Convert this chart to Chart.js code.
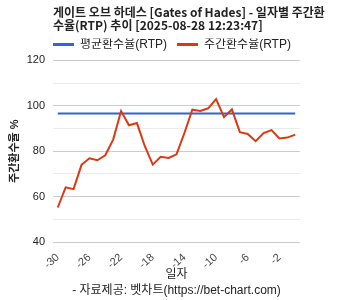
<!DOCTYPE html>
<html><head><meta charset="utf-8">
<script src="https://cdn.jsdelivr.net/npm/chart.js@4/dist/chart.umd.min.js"></script>
<style>html,body{margin:0;padding:0;background:#fff;overflow:hidden}</style>
</head><body>
<canvas id="c" width="353" height="300"></canvas>
<script>
const titleLines = ['게이트 오브 하데스 [Gates of Hades] - 일자별 주간환', '수율(RTP) 추이 [2025-08-28 12:23:47]'];
const seriesNames = ['평균환수율(RTP)', '주간환수율(RTP)'];
const days = [-30,-29,-28,-27,-26,-25,-24,-23,-22,-21,-20,-19,-18,-17,-16,-15,-14,-13,-12,-11,-10,-9,-8,-7,-6,-5,-4,-3,-2,-1,0];
const weeklyRtp = [55.2,64.1,63.3,74.0,76.9,76.0,78.2,85.1,97.7,91.4,92.4,82.2,74.1,77.5,77.0,78.6,88.0,98.3,97.7,98.9,102.9,95.0,98.4,88.4,87.6,84.4,88.0,89.3,85.6,86.0,87.3];
const avgRtp = 96.6;
const xTickValues = [-30,-26,-22,-18,-14,-10,-6,-2];
const yAxisTitle = '주간환수율 %';
const xAxisTitle = ['일자', '- 자료제공: 벳차트(https://bet-chart.com)'];

const FONT = "'Liberation Sans', 'Noto Sans CJK KR', sans-serif";
const TFONT = "'Noto Sans CJK KR', 'Liberation Sans', sans-serif";
const BLUE = '#3366cc', RED = '#dc3912';

const widenTitle = {
  id: 'widenTitle',
  afterLayout(chart) { if (chart.titleBlock) { chart.titleBlock.right = chart.width; chart.titleBlock.width = chart.width - chart.titleBlock.left; } }
};

new Chart(document.getElementById('c'), {
  type: 'line',
  plugins: [widenTitle],
  data: {
    datasets: [
      { label: seriesNames[0], data: days.map(d => ({x: d, y: avgRtp})), borderColor: BLUE, backgroundColor: BLUE, borderWidth: 2, pointRadius: 0, order: 1 },
      { label: seriesNames[1], data: days.map((d, i) => ({x: d, y: weeklyRtp[i]})), borderColor: RED, backgroundColor: RED, borderWidth: 2, pointRadius: 0, order: 0 }
    ]
  },
  options: {
    responsive: false,
    animation: false,
    layout: { padding: { left: 0, right: 53, top: 0, bottom: 2 } },
    elements: { line: { tension: 0 } },
    plugins: {
      tooltip: { enabled: false },
      title: {
        display: true, text: titleLines, align: 'start', fullSize: false,
        color: '#222', font: { family: TFONT, size: 12, weight: 'bold', lineHeight: 1.1 },
        padding: { top: 6, bottom: 6 }
      },
      legend: {
        display: true, align: 'start', fullSize: false,
        labels: {
          boxWidth: 21, boxHeight: 3, padding: 0, color: '#222',
          font: { family: FONT, size: 12 },
          generateLabels: (chart) => {
            const items = Chart.defaults.plugins.legend.labels.generateLabels(chart);
            items.sort((a, b) => a.datasetIndex - b.datasetIndex);
            items.forEach((it, i) => { it.lineWidth = 0; if (i === 0) it.text = it.text + '   '; });
            return items;
          }
        }
      }
    },
    scales: {
      x: {
        type: 'linear', min: -30.6, max: 0.6,
        afterBuildTicks: (s) => { s.ticks = xTickValues.map(v => ({ value: v })); },
        afterFit: (s) => { s.height = 56; },
        grid: { display: false, drawTicks: false }, border: { display: false },
        ticks: { minRotation: 42, maxRotation: 42, color: '#444', font: { family: FONT, size: 11 }, padding: 9 },
        title: { display: true, text: xAxisTitle, color: '#222', font: { family: FONT, size: 12, lineHeight: 1.3 }, padding: { top: 2, bottom: 0 } }
      },
      y: {
        min: 40, max: 120,
        afterFit: (s) => { s.width = 53; },
        ticks: { stepSize: 10, color: '#222', font: { family: FONT, size: 11 }, padding: 8,
          callback: (v) => (v % 20 === 0 ? v : '') },
        grid: { color: (ctx) => (ctx.tick && ctx.tick.value % 20 === 0 ? '#cccccc' : '#ebebeb'), drawTicks: false },
        border: { display: false },
        title: { display: true, text: yAxisTitle, color: '#222', font: { family: FONT, size: 11, weight: 'bold' }, padding: { top: 8, bottom: 0 } }
      }
    }
  }
});
</script>
</body></html>
